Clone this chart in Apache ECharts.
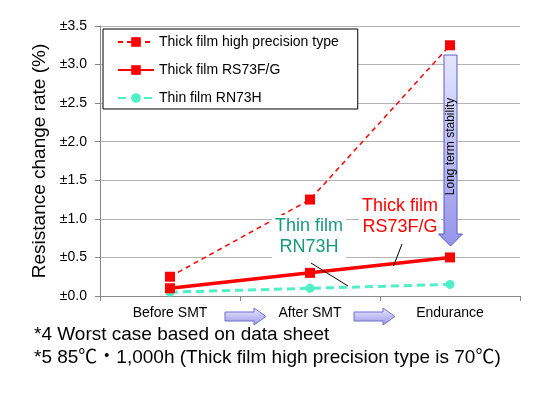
<!DOCTYPE html>
<html>
<head>
<meta charset="utf-8">
<title>Resistance change rate</title>
<script src="https://cdn.jsdelivr.net/npm/echarts@6/dist/echarts.min.js"></script>
<style>
html, body { margin: 0; padding: 0; background: #fff; }
#chart { width: 543px; height: 396px; }
</style>
</head>
<body>
<div id="chart"></div>
<script>
// data
var categories = ['Before SMT', 'After SMT', 'Endurance'];
var seriesNames = ['Thick film high precision type', 'Thick film RS73F/G', 'Thin film RN73H'];
var highPrecision = [0.25, 1.25, 3.25];
var rs73 = [0.1, 0.3, 0.5];
var rn73h = [0.05, 0.1, 0.15];
var yTicks = [0, 0.5, 1.0, 1.5, 2.0, 2.5, 3.0, 3.5];
var notes = [
  '*4 Worst case based on data sheet',
  '*5 85\u2103\u30fb1,000h (Thick film high precision type is 70\u2103)'
];

var font = '"Liberation Sans", Arial, "Noto Sans CJK JP", sans-serif';
var chart = echarts.init(document.getElementById('chart'));

// blue block arrow used between the category labels
function smallArrow(x, y) {
  return {
    type: 'polygon',
    z: 20,
    shape: {
      points: [[x, y + 4], [x + 29, y + 4], [x + 29, y], [x + 41, y + 8.5],
               [x + 29, y + 17], [x + 29, y + 13], [x, y + 13]]
    },
    style: {
      fill: new echarts.graphic.LinearGradient(0, 0, 0, 1, [
        { offset: 0, color: '#ececff' },
        { offset: 1, color: '#9797e6' }
      ]),
      stroke: '#6f6fcf',
      lineWidth: 1
    }
  };
}

chart.setOption({
  animation: false,
  textStyle: { fontFamily: font },
  grid: { left: 100, right: 23, top: 26, bottom: 100 },
  legend: {
    orient: 'vertical',
    left: 103,
    top: 29,
    data: seriesNames,
    itemWidth: 36,
    itemHeight: 12,
    itemGap: 14,
    padding: [6, 19, 4, 14],
    borderColor: '#000',
    borderWidth: 1,
    backgroundColor: '#fff',
    textStyle: { fontSize: 14, color: '#000' }
  },
  xAxis: {
    type: 'category',
    data: categories,
    boundaryGap: true,
    axisLine: { lineStyle: { color: '#868686' } },
    axisTick: { show: true, length: 5, lineStyle: { color: '#868686' } },
    axisLabel: { fontSize: 14, color: '#000', margin: 10 }
  },
  yAxis: {
    type: 'value',
    min: 0,
    max: 3.5,
    interval: 0.5,
    name: 'Resistance change rate (%)',
    nameLocation: 'middle',
    nameGap: 44,
    nameTextStyle: { fontSize: 19, color: '#000' },
    axisLine: { show: true, lineStyle: { color: '#868686' } },
    axisTick: { show: true, length: 5, lineStyle: { color: '#868686' } },
    splitLine: { lineStyle: { color: '#b4b4b4' } },
    axisLabel: {
      fontSize: 14,
      color: '#000',
      margin: 13,
      formatter: function (v) {
        return yTicks.indexOf(v) >= 0 ? '\u00b1' + v.toFixed(1) : '';
      }
    }
  },
  series: [
    {
      name: seriesNames[0],
      type: 'line',
      data: highPrecision,
      symbol: 'rect',
      symbolSize: 10,
      itemStyle: { color: '#ff0000' },
      lineStyle: { color: '#ff0000', width: 1.5, type: [5, 4] },
      z: 3
    },
    {
      name: seriesNames[1],
      type: 'line',
      data: rs73,
      symbol: 'rect',
      symbolSize: 10,
      itemStyle: { color: '#ff0000' },
      lineStyle: { color: '#ff0000', width: 3.5 },
      z: 4
    },
    {
      name: seriesNames[2],
      type: 'line',
      data: rn73h,
      symbol: 'circle',
      symbolSize: 9,
      itemStyle: { color: '#4ff0c8' },
      lineStyle: { color: '#4ff0c8', width: 3, type: [8, 5] },
      z: 2
    }
  ],
  graphic: [
    // Long term stability arrow
    {
      type: 'polygon',
      z: 20,
      shape: {
        points: [[444, 55], [457, 55], [457, 234], [462.5, 234], [450.5, 246],
                 [438.5, 234], [444, 234]]
      },
      style: {
        fill: new echarts.graphic.LinearGradient(0, 0, 0, 1, [
          { offset: 0, color: '#e6e6ff' },
          { offset: 1, color: '#9494e8' }
        ]),
        stroke: '#5a5ac8',
        lineWidth: 1
      }
    },
    {
      type: 'text',
      z: 21,
      x: 451,
      y: 146.5,
      rotation: Math.PI / 2,
      style: {
        text: 'Long term stability',
        font: '12px ' + font,
        fill: '#000',
        align: 'center',
        verticalAlign: 'middle'
      }
    },
    smallArrow(225, 308),
    smallArrow(354, 308),
    // leader lines
    {
      type: 'line', z: 14,
      shape: { x1: 402, y1: 244, x2: 393.5, y2: 266 },
      style: { stroke: '#000', lineWidth: 1 }
    },
    {
      type: 'line', z: 14,
      shape: { x1: 311, y1: 263, x2: 348, y2: 286 },
      style: { stroke: '#000', lineWidth: 1 }
    },
    // series labels
    {
      type: 'text', z: 15, x: 400, y: 195,
      style: {
        text: 'Thick film\nRS73F/G', font: '18px ' + font, fill: '#ff0000',
        align: 'center', lineHeight: 21, backgroundColor: '#fff', padding: [1, 3]
      }
    },
    {
      type: 'text', z: 15, x: 309, y: 215,
      style: {
        text: 'Thin film\nRN73H', font: '18px ' + font, fill: '#179b7c',
        align: 'center', lineHeight: 21, backgroundColor: '#fff', padding: [1, 3]
      }
    },
    // footnotes
    {
      type: 'text', x: 34, y: 335,
      style: { text: notes[0], font: '19px ' + font, fill: '#000', verticalAlign: 'middle' }
    },
    {
      type: 'text', x: 34, y: 358,
      style: { text: notes[1], font: '19px ' + font, fill: '#000', verticalAlign: 'middle' }
    }
  ]
});
</script>
</body>
</html>
